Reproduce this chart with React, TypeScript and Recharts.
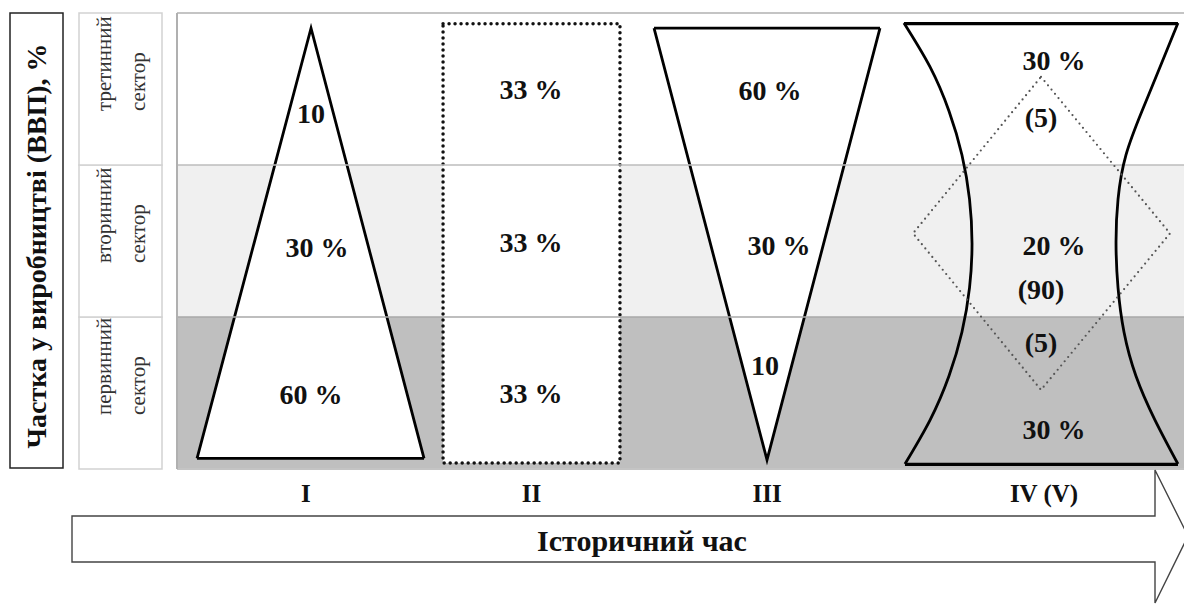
import React from 'react';
import {
  ComposedChart,
  XAxis,
  YAxis,
  ReferenceArea,
  ReferenceLine,
  Area,
  Line,
  Scatter,
} from 'recharts';

// x: share of the panel width (0-100), y: sector units (0 = bottom of primary, 3 = top of tertiary)
const sectorTicks = [0.5, 1.5, 2.5];
const sectorNames = ['первинний', 'вторинний', 'третинний'];
const stageTicks = [12.8, 35.2, 58.6, 86.1];
const stageLabels = ['I', 'II', 'III', 'IV (V)'];
const bandEdges = [0, 1, 2, 3];

const stageI = [
  { x: 1.99, span: [0.07, 0.07] },
  { x: 13.31, span: [0.07, 2.9] },
  { x: 24.53, span: [0.07, 0.07] },
];
const stageIIx = [26.42, 43.99];
const stageIIy = [0.04, 2.93];
const stageIII = [
  { x: 47.37, span: [2.9, 2.9] },
  { x: 58.59, span: [0.06, 2.9] },
  { x: 69.81, span: [2.9, 2.9] },
];
const hourglassTop = [
  { x: 72.19, y: 2.93 },
  { x: 99.4, y: 2.93 },
];
const hourglassBottom = [
  { x: 72.29, y: 0.03 },
  { x: 99.4, y: 0.03 },
];
const hourglassLeft = [
  { x: 72.19, y: 2.934 },
  { x: 74.78, y: 2.645 },
  { x: 76.66, y: 2.355 },
  { x: 77.95, y: 2.066 },
  { x: 78.7, y: 1.776 },
  { x: 78.95, y: 1.484 },
  { x: 78.7, y: 1.191 },
  { x: 77.95, y: 0.901 },
  { x: 76.66, y: 0.612 },
  { x: 74.78, y: 0.322 },
  { x: 72.29, y: 0.033 },
];
const hourglassRight = [
  { x: 99.4, y: 2.934 },
  { x: 97.62, y: 2.645 },
  { x: 95.83, y: 2.355 },
  { x: 94.24, y: 2.066 },
  { x: 93.45, y: 1.776 },
  { x: 93.25, y: 1.484 },
  { x: 93.45, y: 1.191 },
  { x: 94.04, y: 0.901 },
  { x: 95.23, y: 0.612 },
  { x: 97.12, y: 0.322 },
  { x: 99.4, y: 0.033 },
];
const diamond = [
  { x: 85.8, y: 2.58 },
  { x: 98.61, y: 1.55 },
  { x: 85.8, y: 0.52 },
  { x: 73.09, y: 1.55 },
  { x: 85.8, y: 2.58 },
];
const shareLabels = [
  { x: 13.31, y: 2.34, text: '10' },
  { x: 13.9, y: 1.46, text: '30 %' },
  { x: 13.31, y: 0.49, text: '60 %' },
  { x: 35.15, y: 2.5, text: '33 %' },
  { x: 35.15, y: 1.49, text: '33 %' },
  { x: 35.15, y: 0.5, text: '33 %' },
  { x: 58.89, y: 2.49, text: '60 %' },
  { x: 59.78, y: 1.47, text: '30 %' },
  { x: 58.39, y: 0.68, text: '10' },
  { x: 87.09, y: 2.69, text: '30 %' },
  { x: 85.8, y: 2.31, text: '(5)' },
  { x: 87.09, y: 1.47, text: '20 %' },
  { x: 85.8, y: 1.18, text: '(90)' },
  { x: 85.8, y: 0.83, text: '(5)' },
  { x: 87.09, y: 0.26, text: '30 %' },
];

const FONT = 'Liberation Serif';
const INK = '#111';

const SectorTick = (props: any) => {
  const { y, payload } = props;
  const i = sectorTicks.indexOf(payload.value);
  const half = 76;
  const start = y + 22;
  return (
    <g>
      <rect x={79} y={y - half} width={83} height={half * 2} fill="#fff" stroke="#d2d2d2" strokeWidth={1.5} />
      <text
        x={104}
        y={start}
        transform={`rotate(-90 104 ${start})`}
        style={{ fontFamily: FONT }}
        fontSize={21}
        fill="#333"
        dominantBaseline="central"
      >
        {sectorNames[i]}
      </text>
      <text
        x={138}
        y={start}
        transform={`rotate(-90 138 ${start})`}
        style={{ fontFamily: FONT }}
        fontSize={21}
        fill="#333"
        dominantBaseline="central"
      >
        сектор
      </text>
    </g>
  );
};

const SideTitle = () => (
  <g>
    <rect x={10} y={13} width={53} height={455} fill="#fff" stroke="#222" strokeWidth={1.5} />
    <text
      x={36}
      y={246}
      transform="rotate(-90 36 246)"
      textAnchor="middle"
      dominantBaseline="central"
      style={{ fontFamily: FONT, fontWeight: 700 }}
      fontSize={28}
      fill={INK}
    >
      Частка у виробництві (ВВП), %
    </text>
  </g>
);

const StageTick = (props: any) => {
  const { x, payload } = props;
  const i = stageTicks.indexOf(payload.value);
  return (
    <text
      x={x}
      y={493}
      textAnchor="middle"
      dominantBaseline="central"
      style={{ fontFamily: FONT, fontWeight: 700 }}
      fontSize={25}
      fill={INK}
    >
      {stageLabels[i]}
    </text>
  );
};

const TimeArrow = () => (
  <g>
    <polygon
      points="72,516 1155,516 1155,470 1188,536 1155,603 1155,562 72,562"
      fill="#fff"
      stroke="#444"
      strokeWidth={1.4}
    />
    <text
      x={642}
      y={540}
      textAnchor="middle"
      dominantBaseline="central"
      style={{ fontFamily: FONT, fontWeight: 700 }}
      fontSize={30}
      fill={INK}
    >
      Історичний час
    </text>
  </g>
);

const ShareText = (props: any) => {
  const { cx, cy, payload } = props;
  return (
    <text
      x={cx}
      y={cy}
      textAnchor="middle"
      dominantBaseline="central"
      style={{ fontFamily: FONT, fontWeight: 700 }}
      fontSize={28}
      fill={INK}
    >
      {payload.text}
    </text>
  );
};

const bandFills = ['#bfbfbf', '#f0f0f0', '#ffffff'];

export default function App() {
  return (
    <div style={{ position: 'absolute', left: 0, top: 0, background: '#fff' }}>
      <ComposedChart width={1184} height={604} margin={{ top: 13, right: 0, bottom: 90, left: 0 }}>
        <XAxis
          type="number"
          dataKey="x"
          domain={[0, 100]}
          ticks={stageTicks}
          interval={0}
          allowDataOverflow
          height={45}
          axisLine={false}
          tickLine={false}
          tick={(p: any) => <StageTick {...p} />}
          label={<TimeArrow />}
        />
        <YAxis
          type="number"
          domain={[0, 3]}
          ticks={sectorTicks}
          interval={0}
          allowDataOverflow
          width={177}
          axisLine={false}
          tickLine={false}
          tick={(p: any) => <SectorTick {...p} />}
          label={<SideTitle />}
        />
        {bandFills.map((fill, i) => (
          <ReferenceArea
            key={`band-${i}`}
            y1={bandEdges[i]}
            y2={bandEdges[i + 1]}
            fill={fill}
            fillOpacity={1}
            stroke="none"
          />
        ))}
        <ReferenceLine y={1} stroke="#a9a9a9" strokeWidth={1.5} />
        <ReferenceLine y={2} stroke="#bdbdbd" strokeWidth={1.5} />
        <ReferenceLine y={3} stroke="#c4c4c4" strokeWidth={2} />
        <ReferenceLine y={0} stroke="#c4c4c4" strokeWidth={2} />
        <ReferenceLine x={0} stroke="#b0b0b0" strokeWidth={2} />
        <ReferenceArea
          x1={stageIIx[0]}
          x2={stageIIx[1]}
          y1={stageIIy[0]}
          y2={stageIIy[1]}
          fill="#fff"
          fillOpacity={1}
          stroke="#111"
          strokeWidth={3.5}
          strokeDasharray="0 6"
          strokeLinecap="round"
        />
        <Area
          data={stageI}
          dataKey="span"
          type="linear"
          fill="#fff"
          fillOpacity={1}
          stroke="#000"
          strokeWidth={2.8}
          dot={false}
          activeDot={false}
          isAnimationActive={false}
        />
        <Area
          data={stageIII}
          dataKey="span"
          type="linear"
          fill="#fff"
          fillOpacity={1}
          stroke="#000"
          strokeWidth={2.8}
          dot={false}
          activeDot={false}
          isAnimationActive={false}
        />
        {[hourglassTop, hourglassBottom].map((d, i) => (
          <Line
            key={`hg-edge-${i}`}
            data={d}
            dataKey="y"
            type="linear"
            stroke="#000"
            strokeWidth={3.2}
            dot={false}
            activeDot={false}
            isAnimationActive={false}
          />
        ))}
        {[hourglassLeft, hourglassRight].map((d, i) => (
          <Line
            key={`hg-side-${i}`}
            data={d}
            dataKey="y"
            type="natural"
            stroke="#000"
            strokeWidth={2.8}
            dot={false}
            activeDot={false}
            isAnimationActive={false}
          />
        ))}
        <Line
          data={diamond}
          dataKey="y"
          type="linear"
          stroke="#555"
          strokeWidth={2.2}
          strokeDasharray="0 5.5"
          strokeLinecap="round"
          dot={false}
          activeDot={false}
          isAnimationActive={false}
        />
        <Scatter
          data={shareLabels}
          dataKey="y"
          shape={(p: any) => <ShareText {...p} />}
          isAnimationActive={false}
        />
      </ComposedChart>
    </div>
  );
}
